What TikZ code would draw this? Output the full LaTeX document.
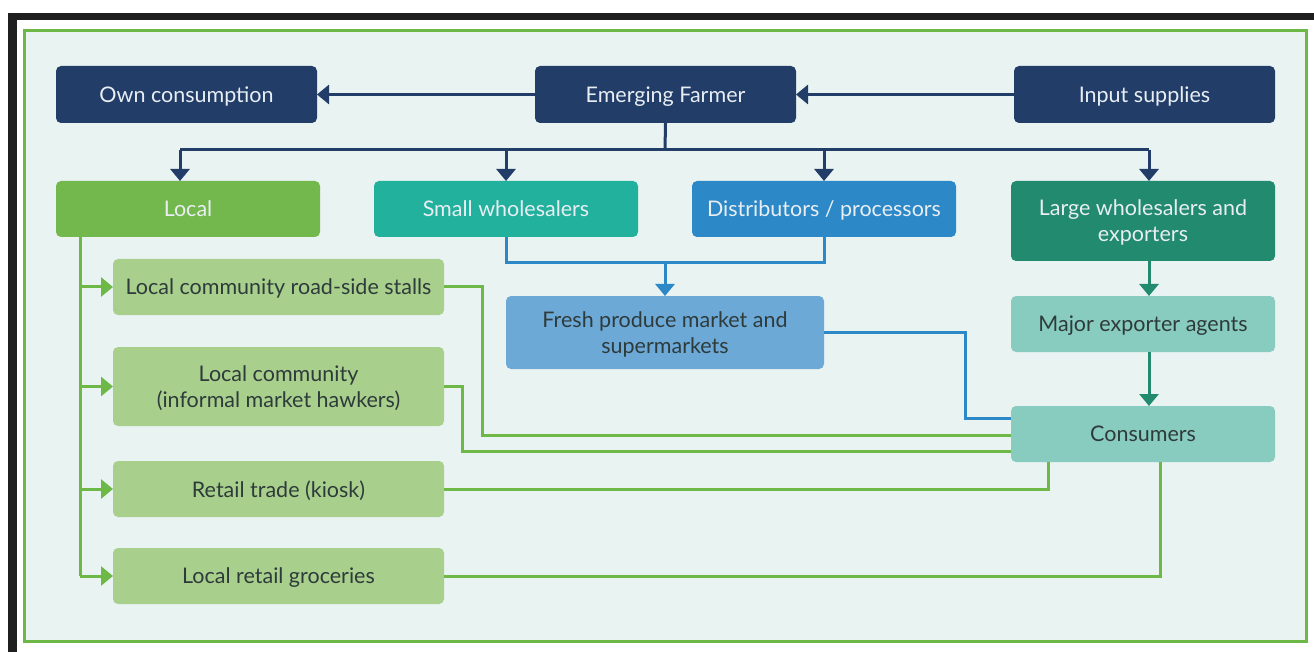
\documentclass[tikz,border=0pt]{standalone}
\usepackage{fontspec}
\setmainfont{Lato}
\usetikzlibrary{arrows.meta}
\definecolor{navy}{HTML}{213D68}
\definecolor{localg}{HTML}{72B84C}
\definecolor{swteal}{HTML}{22B19C}
\definecolor{distblue}{HTML}{2C88C6}
\definecolor{largeg}{HTML}{218A6F}
\definecolor{lightg}{HTML}{A9CF8C}
\definecolor{freshb}{HTML}{6DA9D7}
\definecolor{mint}{HTML}{88CCBF}
\definecolor{bgc}{HTML}{E9F3F2}
\definecolor{frameg}{HTML}{6DB847}
\definecolor{darktxt}{HTML}{2E3B3B}
\definecolor{lighttxt}{HTML}{E8EEF4}
\tikzset{
  box/.style={rounded corners=5pt, inner sep=0pt, outer sep=0pt, align=center,
              text depth=0pt, font=\fontsize{21.5}{26}\selectfont},
  darkbox/.style={box, text=lighttxt},
  lightbox/.style={box, text=darktxt},
  conn/.style={line width=3pt},
  tip/.style={-{Triangle[width=19pt,length=12pt]}},
}
\begin{document}
\begin{tikzpicture}[x=1pt,y=-1pt]
\useasboundingbox (0,0) rectangle (1314,652);
% outer black frame
\fill[black!88] (8,13) rectangle (1314,20);
\fill[black!88] (8,13) rectangle (17,652);
% green frame
\draw[frameg, line width=3pt, fill=bgc] (24.5,30.5) rectangle (1306.5,641.5);

% nodes
\node[darkbox, fill=navy, minimum width=261pt, minimum height=57pt] (own) at (186.5,94.5) {Own consumption};
\node[darkbox, fill=navy, minimum width=261pt, minimum height=57pt] (farmer) at (665.5,94.5) {Emerging Farmer};
\node[darkbox, fill=navy, minimum width=261pt, minimum height=57pt] (input) at (1144.5,94.5) {Input supplies};

\node[darkbox, fill=localg, minimum width=264pt, minimum height=56pt] (local) at (188,209) {Local};
\node[darkbox, fill=swteal, minimum width=264pt, minimum height=56pt] (sw) at (506,209) {Small wholesalers};
\node[darkbox, fill=distblue, minimum width=264pt, minimum height=56pt] (dist) at (824,209) {Distributors / processors};
\node[darkbox, fill=largeg, minimum width=264pt, minimum height=80pt] (large) at (1143,221) {Large wholesalers and\\exporters};

\node[lightbox, fill=lightg, minimum width=331pt, minimum height=56pt] (road) at (278.5,287) {Local community road-side stalls};
\node[lightbox, fill=freshb, minimum width=318pt, minimum height=73pt] (fresh) at (665,332.5) {Fresh produce market and\\supermarkets};
\node[lightbox, fill=mint, minimum width=264pt, minimum height=56pt] (major) at (1143,324) {Major exporter agents};
\node[lightbox, fill=lightg, minimum width=331pt, minimum height=79pt] (haw) at (278.5,386.5) {Local community\\(informal market hawkers)};
\node[lightbox, fill=mint, minimum width=264pt, minimum height=56pt] (cons) at (1143,434) {Consumers};
\node[lightbox, fill=lightg, minimum width=331pt, minimum height=56pt] (kiosk) at (278.5,489) {Retail trade (kiosk)};
\node[lightbox, fill=lightg, minimum width=331pt, minimum height=56pt] (groc) at (278.5,576) {Local retail groceries};

% coordinates
\coordinate (bus) at (665,150);
\coordinate (busL) at (180,150);
\coordinate (busR) at (1149,150);
\coordinate (merge) at (665,263);
\coordinate (b1) at (965,418);
\coordinate (c1) at (482,435);
\coordinate (c2) at (462,451);
\coordinate (lvtop) at (80,237);

% navy connectors
\draw[conn, navy, tip] (farmer.west) -- (own.east);
\draw[conn, navy, tip] (input.west) -- (farmer.east);
\draw[conn, navy] (farmer.south) -- (bus);
\draw[conn, navy] (busL) -- (busR);
\draw[conn, navy, tip] (busL) -- (busL |- local.north);
\draw[conn, navy, tip] (sw.north |- bus) -- (sw.north);
\draw[conn, navy, tip] (dist.north |- bus) -- (dist.north);
\draw[conn, navy, tip] (busR) -- (busR |- large.north);

% blue connectors
\draw[conn, distblue] (sw.south) |- (merge) -| (dist.south);
\draw[conn, distblue, tip] (merge) -- (fresh.north);
\draw[conn, distblue] (fresh.east) -| (b1) -- (b1 -| cons.west);

% dark green connectors
\draw[conn, largeg, tip] (busR |- large.south) -- (busR |- major.north);
\draw[conn, largeg, tip] (busR |- major.south) -- (busR |- cons.north);

% light green connectors
\draw[conn, frameg] (lvtop) -- (lvtop |- groc.west);
\draw[conn, frameg, tip] (lvtop |- road.west) -- (road.west);
\draw[conn, frameg, tip] (lvtop |- haw.west) -- (haw.west);
\draw[conn, frameg, tip] (lvtop |- kiosk.west) -- (kiosk.west);
\draw[conn, frameg, tip] (lvtop |- groc.west) -- (groc.west);

\draw[conn, frameg] (road.east) -| (c1) -- (c1 -| cons.west);
\draw[conn, frameg] (haw.east) -| (c2) -- (c2 -| cons.west);
\draw[conn, frameg] (kiosk.east) -| ([xshift=37pt]cons.south west);
\draw[conn, frameg] (groc.east) -| ([xshift=149pt]cons.south west);
\end{tikzpicture}
\end{document}
